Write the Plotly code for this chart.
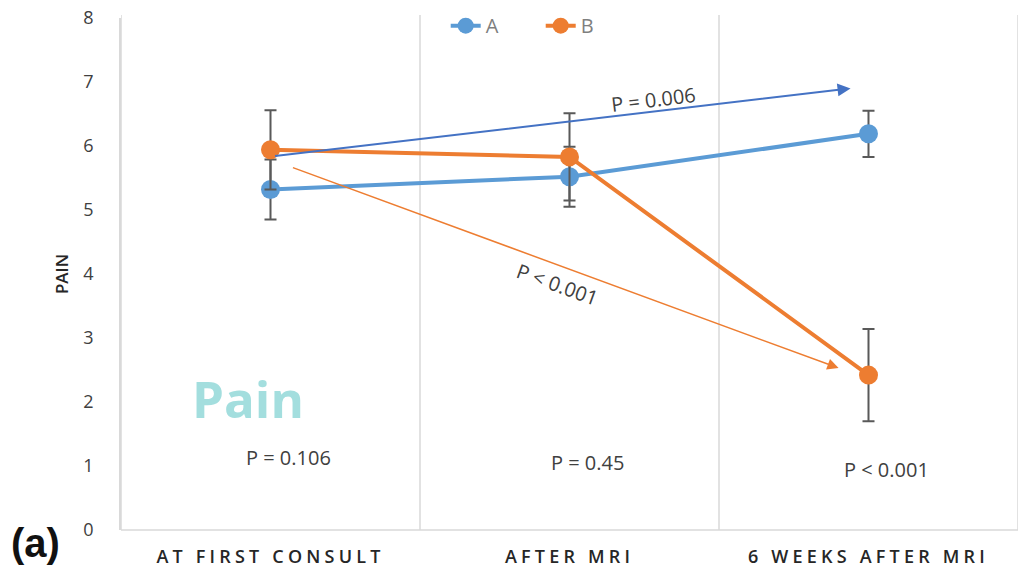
import plotly.graph_objects as go

categories = ["AT FIRST CONSULT", "AFTER MRI", "6 WEEKS AFTER MRI"]
a_means = [5.32, 5.52, 6.19]
a_err = [0.47, 0.47, 0.36]
b_means = [5.94, 5.83, 2.42]
b_err = [0.62, 0.68, 0.72]
y_ticks = [0, 1, 2, 3, 4, 5, 6, 7, 8]
p_between = ["P = 0.106", "P = 0.45", "P < 0.001"]
p_between_y = [1.13, 1.05, 0.95]

BLUE = "#5B9BD5"
ORANGE = "#ED7D31"
ERR = "#595959"
GRID = "#D9D9D9"
FONT = "Open Sans"

xs = list(range(len(categories)))

fig = go.Figure()
fig.add_trace(go.Scatter(
    x=xs, y=a_means, name="A", mode="lines+markers",
    line=dict(color=BLUE, width=4),
    marker=dict(color=BLUE, size=19),
    error_y=dict(type="data", array=a_err, color=ERR, thickness=2, width=6),
))
fig.add_trace(go.Scatter(
    x=xs, y=b_means, name="B", mode="lines+markers",
    line=dict(color=ORANGE, width=4),
    marker=dict(color=ORANGE, size=19),
    error_y=dict(type="data", array=b_err, color=ERR, thickness=2, width=6),
))

# frame lines and category separators
for xv in [-0.5, 0.5, 1.5, 2.5]:
    fig.add_shape(type="line", x0=xv, x1=xv, y0=0, y1=1.006, xref="x", yref="paper",
                  line=dict(color=GRID, width=1.5), layer="below")

# arrows
fig.add_annotation(x=1.94, y=6.9, ax=0.01, ay=5.84, xref="x", yref="y", axref="x", ayref="y",
                   showarrow=True, arrowhead=2, arrowsize=1.3, arrowwidth=2, arrowcolor="#4472C4", text="")
fig.add_annotation(x=1.9, y=2.53, ax=0.07, ay=5.67, xref="x", yref="y", axref="x", ayref="y",
                   showarrow=True, arrowhead=2, arrowsize=1.5, arrowwidth=1.5, arrowcolor=ORANGE, text="")
fig.add_annotation(x=1.28, y=6.72, text="P = 0.006", showarrow=False, textangle=-7,
                   font=dict(family=FONT, size=20, color="#404040"))
fig.add_annotation(x=0.96, y=3.84, text="P < 0.001", showarrow=False, textangle=20,
                   font=dict(family=FONT, size=20, color="#404040"))

for i, (t, yv) in enumerate(zip(p_between, p_between_y)):
    fig.add_annotation(x=i + 0.06, y=yv, text=t, showarrow=False,
                       font=dict(family=FONT, size=20, color="#404040"))

fig.add_annotation(x=-0.075, y=2.06, text="<b>Pain</b>", showarrow=False,
                   font=dict(family=FONT, size=51, color="#A3DEDE"))
fig.add_annotation(x=-0.095, y=-0.025, xref="paper", yref="paper", xanchor="center", yanchor="middle",
                   text="(a)", showarrow=False,
                   font=dict(family="Liberation Sans", size=40, color="#111111", weight="bold"))

fig.update_layout(
    width=1025, height=577,
    margin=dict(l=121, r=7, t=18, b=47, autoexpand=False),
    plot_bgcolor="white", paper_bgcolor="white",
    showlegend=True,
    legend=dict(orientation="h", x=0.362, xanchor="left", y=0.985, yanchor="middle",
                font=dict(family=FONT, size=20, color="#7F7F7F"), bgcolor="rgba(0,0,0,0)",
                itemwidth=30, tracegroupgap=0, entrywidth=50, entrywidthmode="pixels"),
    xaxis=dict(range=[-0.5, 2.5], tickvals=xs, ticktext=categories, showgrid=False,
               zeroline=False, showline=False, automargin=False,
               tickfont=dict(family=FONT, size=18, color="#262626", weight=600),
               ticks="outside", ticklen=10, tickcolor="rgba(0,0,0,0)"),
    yaxis=dict(range=[0, 8], tickvals=y_ticks, showgrid=False, zeroline=False, showline=True,
               linecolor=GRID, linewidth=1.5, automargin=False,
               tickfont=dict(family=FONT, size=18, color="#404040"),
               ticks="outside", ticklen=22, tickcolor="rgba(0,0,0,0)",
               title=dict(text="PAIN", standoff=10,
                          font=dict(family=FONT, size=17, color="#262626", weight=600))),
)
fig.add_shape(type="line", x0=0, x1=1, y0=0, y1=0, xref="paper", yref="paper",
              line=dict(color=GRID, width=1.5))

post = """
document.body.style.margin='0';
var s=document.querySelectorAll('.xtick text');
s.forEach(function(t){t.style.letterSpacing='4.2px';});
"""
fig.write_html("out.html", post_script=post, config={"displayModeBar": False})
